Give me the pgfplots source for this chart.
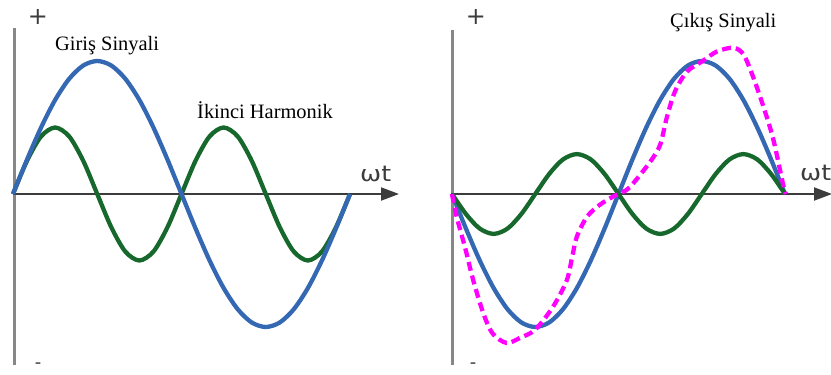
\documentclass[border=0pt]{standalone}
\usepackage{fontspec}
\setmainfont{Liberation Serif}
\newfontfamily\symfont{DejaVu Sans}
\usepackage{pgfplots}
\usepackage{pgfplotstable}
\pgfplotsset{compat=1.18}
\usetikzlibrary{arrows.meta}

\definecolor{sigblue}{RGB}{52,104,178}
\definecolor{harmgreen}{RGB}{22,104,45}
\definecolor{outmag}{RGB}{255,0,255}
\definecolor{axisdark}{RGB}{60,60,60}
\definecolor{axisgray}{RGB}{135,135,135}

% input signal (fundamental), angle in degrees
\pgfplotstableread{
th v
0 0
15 0.259
30 0.5
45 0.707
60 0.866
75 0.966
90 1
105 0.966
120 0.866
135 0.707
150 0.5
165 0.259
180 0
195 -0.259
210 -0.5
225 -0.707
240 -0.866
255 -0.966
270 -1
285 -0.966
300 -0.866
315 -0.707
330 -0.5
345 -0.259
360 0
}\inputsig

% second harmonic
\pgfplotstableread{
th v
0 0
15 0.25
30 0.433
45 0.5
60 0.433
75 0.25
90 0
105 -0.25
120 -0.433
135 -0.5
150 -0.433
165 -0.25
180 0
195 0.25
210 0.433
225 0.5
240 0.433
255 0.25
270 0
285 -0.25
300 -0.433
315 -0.5
330 -0.433
345 -0.25
360 0
}\harmonic

% inverted fundamental (right panel)
\pgfplotstableread{
th v
0 0
15 -0.259
30 -0.5
45 -0.707
60 -0.866
75 -0.966
90 -1
105 -0.966
120 -0.866
135 -0.707
150 -0.5
165 -0.259
180 0
195 0.259
210 0.5
225 0.707
240 0.866
255 0.966
270 1
285 0.966
300 0.866
315 0.707
330 0.5
345 0.259
360 0
}\inputinv

% inverted second harmonic (right panel)
\pgfplotstableread{
th v
0 0
15 -0.15
30 -0.26
45 -0.30
60 -0.26
75 -0.15
90 0
105 0.15
120 0.26
135 0.30
150 0.26
165 0.15
180 0
195 -0.15
210 -0.26
225 -0.30
240 -0.26
255 -0.15
270 0
285 0.15
300 0.26
315 0.30
330 0.26
345 0.15
360 0
}\harminv

% distorted output signal
\pgfplotstableread{
th v
0 0
5 -0.17
14 -0.40
23 -0.65
34 -0.90
44 -1.05
59 -1.12
74 -1.08
90 -1.02
109 -0.85
124 -0.65
130 -0.47
135 -0.32
146 -0.17
160 -0.08
174 -0.02
180 0
192 0.05
214 0.24
225 0.37
232 0.57
241 0.77
254 0.92
271 1.00
286 1.07
304 1.10
315 1.05
325 0.89
336 0.67
347 0.42
358 0.07
361 0
}\output

\pgfplotsset{
  wave/.style={
    scale only axis, hide axis, clip=false,
    xmin=0, xmax=360, ymin=-1, ymax=1,
    height=266bp, anchor=south west,
  },
}

\begin{document}
\begin{tikzpicture}[x=1bp,y=1bp]
\useasboundingbox (0,0) rectangle (831,374);

% left panel axes
\draw[axisgray, line width=3bp] (14,346) -- (14,9);
\draw[axisdark, line width=2bp, -{Triangle[length=18bp,width=13bp]}] (13,180) -- (399,180);
% right panel axes
\draw[axisgray, line width=3bp] (452,344) -- (452,9);
\draw[axisdark, line width=2bp, -{Triangle[length=18bp,width=13bp]}] (451,180) -- (832,180);

\begin{axis}[wave, width=337bp, at={(13bp,47bp)}]
  \addplot[harmgreen, line width=4.3bp, smooth] table[x=th, y=v] {\harmonic};
  \addplot[sigblue, line width=4.3bp, smooth] table[x=th, y=v] {\inputsig};
\end{axis}

\begin{axis}[wave, width=333bp, at={(452bp,47bp)}]
  \addplot[sigblue, line width=4.3bp, smooth] table[x=th, y=v] {\inputinv};
  \addplot[harmgreen, line width=4.3bp, smooth] table[x=th, y=v] {\harminv};
  \addplot[outmag, line width=4.3bp, smooth, dash pattern=on 9bp off 5bp] table[x=th, y=v] {\output};
\end{axis}

% labels
\node[anchor=base west, inner sep=0pt, font=\fontsize{20.5}{24}\selectfont] at (55,324) {Giriş Sinyali};
\node[anchor=base west, inner sep=0pt, font=\fontsize{20.5}{24}\selectfont] at (197,256) {İkinci Harmonik};
\node[anchor=base west, inner sep=0pt, font=\fontsize{20.5}{24}\selectfont] at (670,347) {Çıkış Sinyali};

\node[anchor=base west, inner sep=0pt, text=axisdark, font=\symfont\fontsize{22}{24}\selectfont] at (360,193) {\scalebox{1.15}[1]{ωt}};
\node[anchor=base west, inner sep=0pt, text=axisdark, font=\symfont\fontsize{22}{24}\selectfont] at (800,194) {\scalebox{1.15}[1]{ωt}};

\node[inner sep=0pt, text=axisdark, font=\symfont\fontsize{24}{26}\selectfont] at (38,357) {+};
\node[inner sep=0pt, text=axisdark, font=\symfont\fontsize{24}{26}\selectfont] at (476,357) {+};
\node[inner sep=0pt, text=axisdark, font=\symfont\fontsize{18}{20}\selectfont] at (38,8) {-};
\node[inner sep=0pt, text=axisdark, font=\symfont\fontsize{18}{20}\selectfont] at (473,8) {-};
\end{tikzpicture}
\end{document}
